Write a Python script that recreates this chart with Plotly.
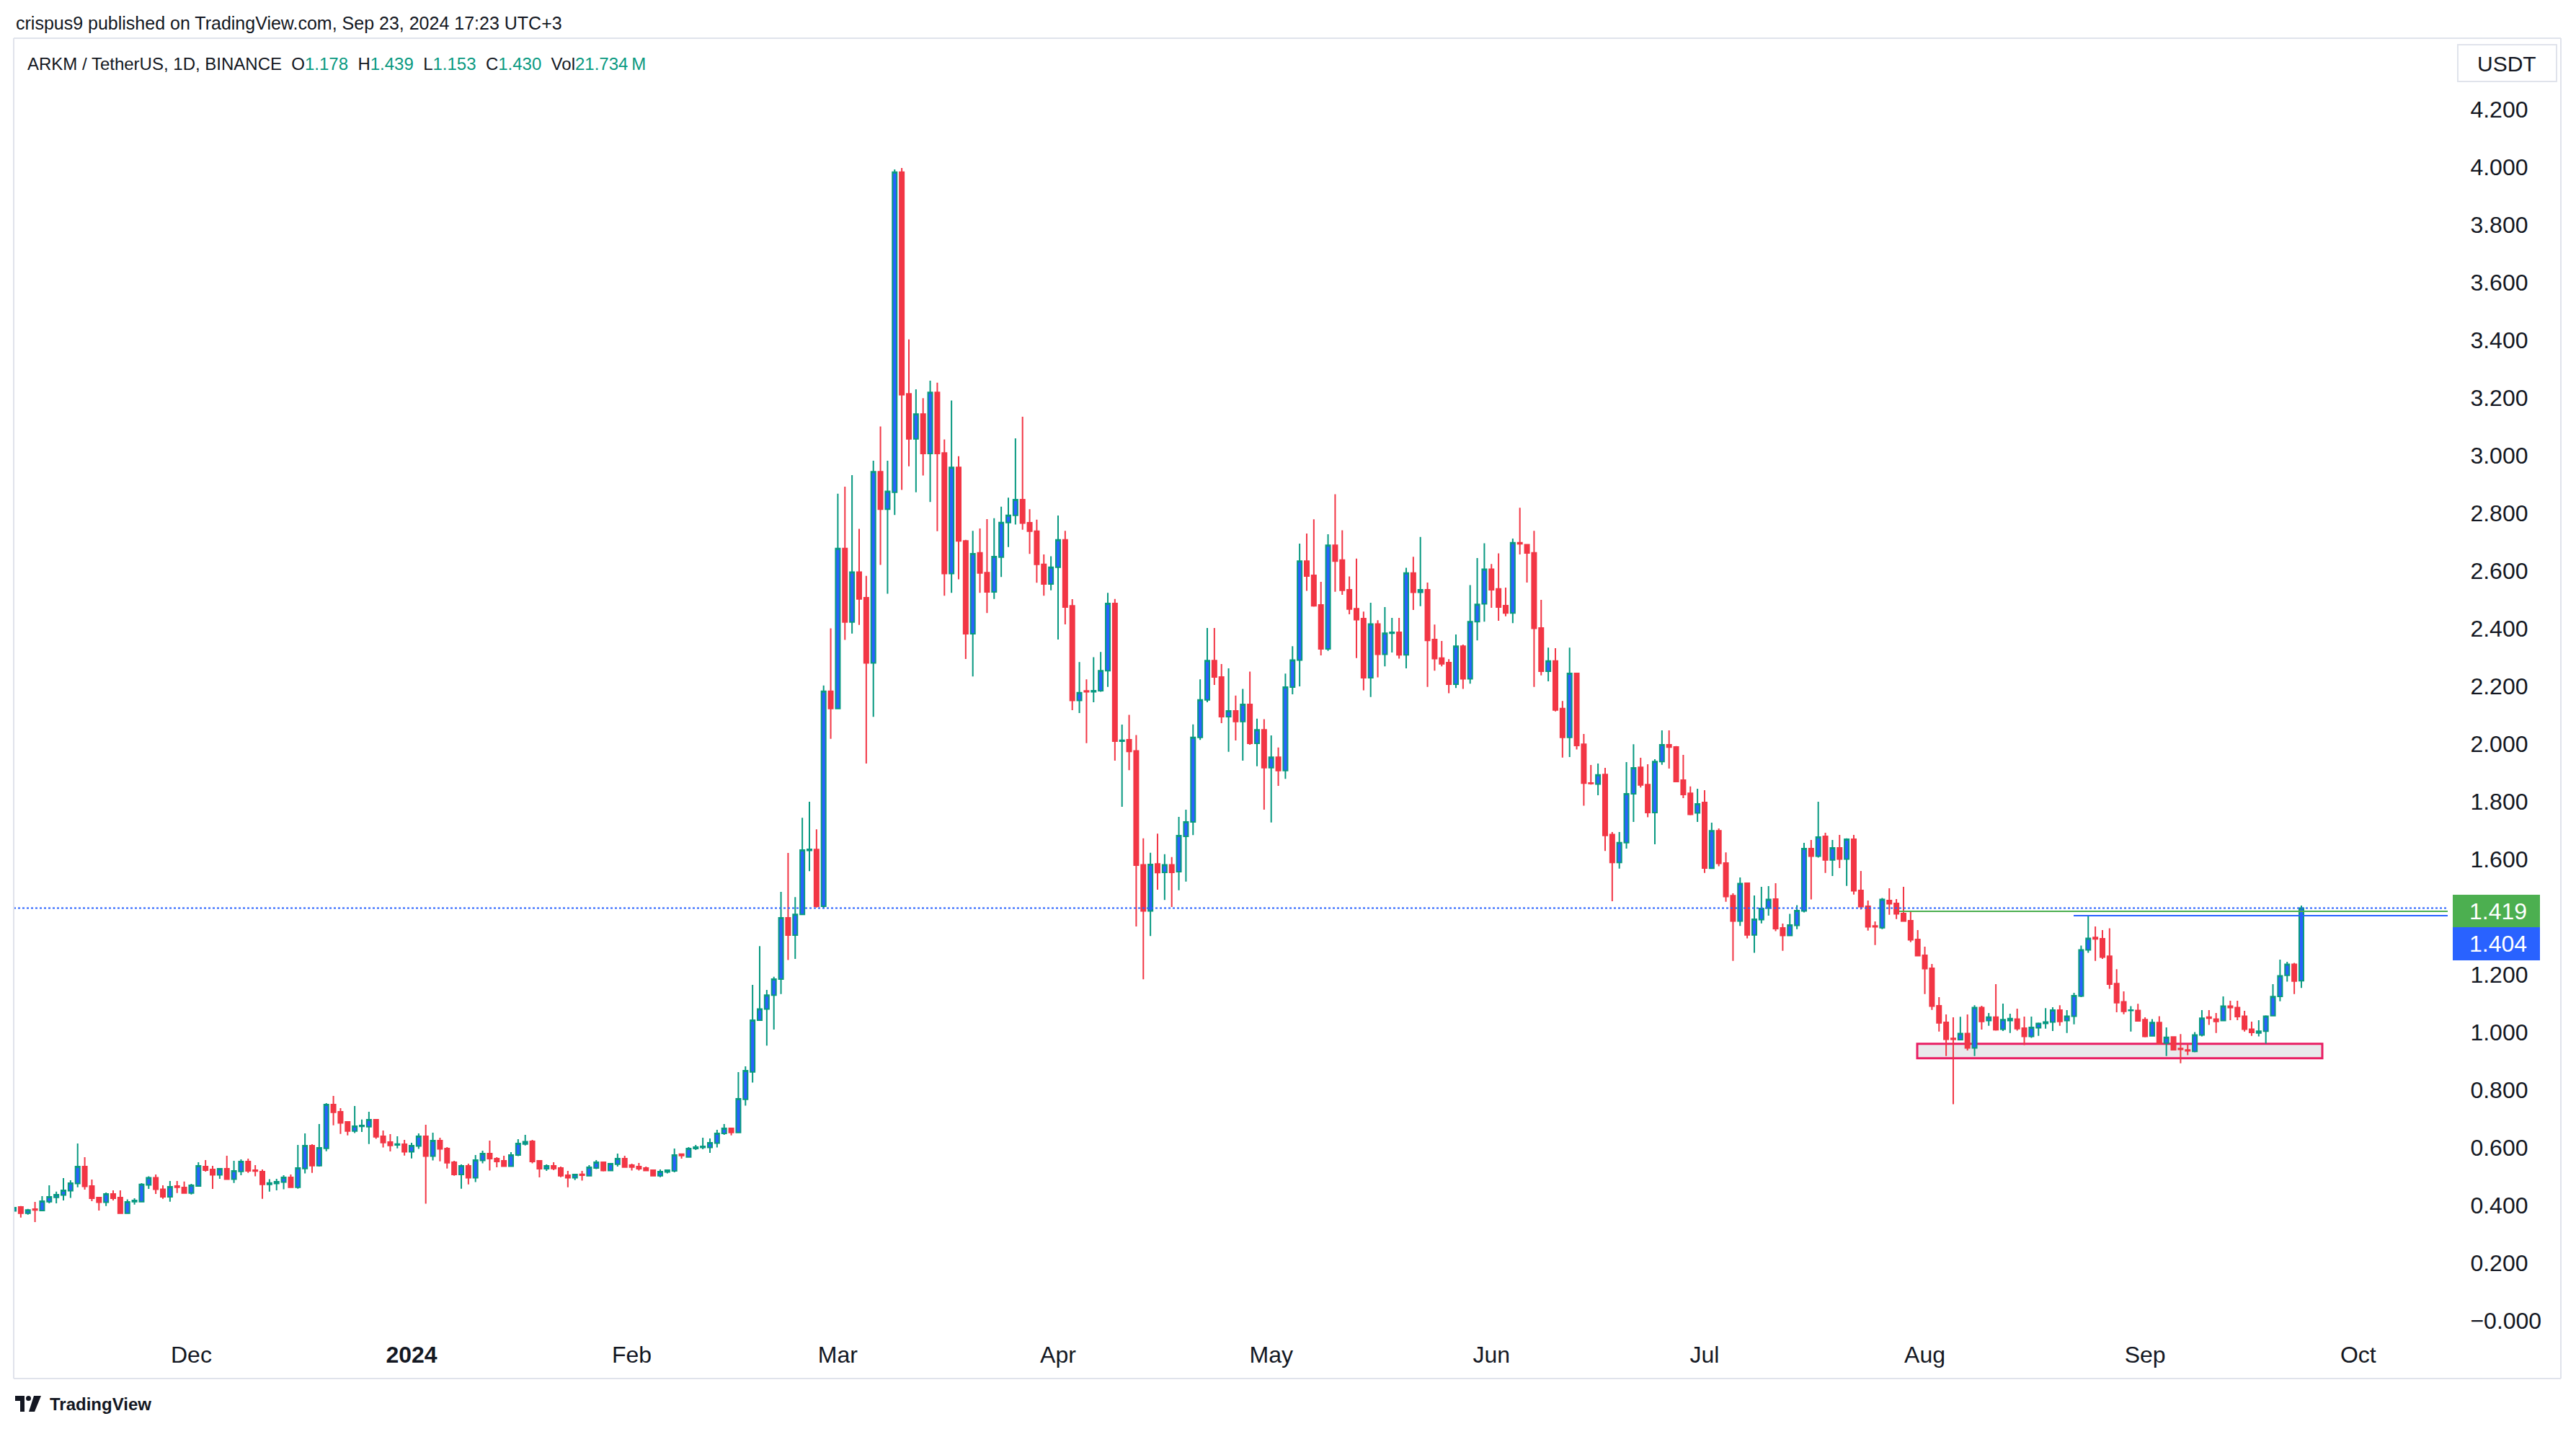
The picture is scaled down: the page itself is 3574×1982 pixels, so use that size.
import plotly.graph_objects as go
import pandas as pd

# ------------------------------------------------------------------
# DATA  (ARKM / TetherUS, 1D, BINANCE) - one candle per day from 2023-11-06
# ------------------------------------------------------------------
start_date = "2023-11-06"

open_ = [
    # Nov 2023 (6-30)
    0.380,0.394,0.372,0.386,0.381,0.412,0.427,0.435,0.450,0.475,0.534,0.466,0.426,0.410,0.439,0.426,0.372,0.412,0.412,0.470,0.495,0.455,0.429,0.466,0.461,
    # Dec
    0.442,0.466,0.534,0.524,0.505,0.526,0.490,0.517,0.551,0.521,0.516,0.472,0.475,0.480,0.496,0.462,0.527,0.606,0.537,0.597,0.749,0.724,0.689,0.657,0.673,0.672,0.696,0.639,0.619,0.609,0.611,
    # Jan 2024
    0.585,0.605,0.639,0.570,0.624,0.596,0.549,0.506,0.536,0.495,0.555,0.579,0.561,0.554,0.535,0.574,0.612,0.621,0.554,0.526,0.536,0.529,0.504,0.495,0.507,0.502,0.529,0.549,0.520,0.542,0.561,
    # Feb
    0.539,0.534,0.529,0.521,0.502,0.515,0.519,0.577,0.567,0.596,0.600,0.600,0.615,0.649,0.666,0.652,0.767,0.862,1.041,1.080,1.128,1.184,1.396,1.336,1.408,1.630,1.633,1.436,2.182,
    # Mar
    2.122,2.677,2.422,2.595,2.506,2.280,2.943,2.813,2.872,3.982,3.213,3.057,3.143,3.006,3.218,3.008,2.590,2.958,2.703,2.381,2.662,2.593,2.526,2.647,2.767,2.792,2.846,2.766,2.737,2.622,2.554,
    # Apr
    2.612,2.707,2.478,2.150,2.183,2.180,2.184,2.253,2.486,2.009,2.014,1.975,1.580,1.420,1.583,1.554,1.580,1.556,1.679,1.729,2.022,2.152,2.288,2.231,2.094,2.114,2.077,2.136,2.001,2.048,
    # May
    1.917,1.953,1.907,2.196,2.290,2.633,2.584,2.481,2.329,2.688,2.637,2.534,2.468,2.434,2.229,2.415,2.310,2.383,2.386,2.308,2.592,2.525,2.534,2.361,2.297,2.281,2.206,2.338,2.225,2.423,2.485,
    # Jun
    2.605,2.537,2.479,2.453,2.697,2.690,2.662,2.401,2.251,2.287,2.122,2.022,2.244,1.998,1.864,1.860,1.893,1.685,1.588,1.657,1.826,1.918,1.858,1.761,1.938,1.996,1.989,1.874,1.828,1.760,
    # Jul
    1.796,1.568,1.698,1.586,1.473,1.385,1.516,1.337,1.390,1.430,1.461,1.361,1.335,1.370,1.420,1.636,1.610,1.679,1.597,1.639,1.600,1.669,1.491,1.436,1.368,1.362,1.456,1.446,1.411,1.386,1.321,
    # Aug
    1.266,1.221,1.091,1.034,0.978,0.974,0.995,0.945,1.085,1.040,1.052,1.010,1.040,1.045,1.014,0.985,1.015,1.030,1.035,1.076,1.040,1.055,1.125,1.285,1.328,1.324,1.263,1.168,1.105,1.075,1.075,
    # Sep (1-23)
    1.043,0.987,1.033,0.962,0.983,0.943,0.938,0.933,0.990,1.052,1.045,1.040,1.090,1.085,1.055,1.010,0.997,1.003,1.057,1.124,1.197,1.235,1.178,
]

high_ = [
    0.395,0.397,0.387,0.411,0.431,0.469,0.447,0.494,0.486,0.614,0.566,0.489,0.426,0.444,0.451,0.451,0.420,0.424,0.476,0.500,0.506,0.469,0.484,0.484,0.482,
    0.474,0.549,0.556,0.536,0.529,0.571,0.554,0.559,0.561,0.539,0.524,0.490,0.491,0.504,0.506,0.609,0.649,0.611,0.681,0.754,0.779,0.736,0.689,0.744,0.697,0.724,0.699,0.659,0.646,0.639,0.626,
    0.616,0.649,0.679,0.651,0.634,0.601,0.554,0.541,0.544,0.574,0.589,0.624,0.566,0.571,0.584,0.629,0.644,0.626,0.556,0.541,0.549,0.534,0.519,0.509,0.519,0.539,0.556,0.551,0.546,0.579,0.571,
    0.544,0.546,0.534,0.524,0.524,0.524,0.596,0.579,0.601,0.609,0.634,0.631,0.661,0.681,0.669,0.861,0.881,1.164,1.298,1.146,1.192,1.486,1.621,1.468,1.743,1.799,1.703,2.202,2.400,
    2.867,2.891,2.931,2.745,2.582,2.981,3.100,2.981,3.991,3.996,3.402,3.229,3.198,3.259,3.252,3.055,3.190,2.997,2.707,2.738,2.746,2.779,2.782,2.822,2.853,3.059,3.134,2.813,2.777,2.656,2.650,
    2.791,2.738,2.501,2.283,2.223,2.300,2.318,2.523,2.502,2.066,2.100,2.030,1.672,1.622,1.688,1.617,1.607,1.746,1.771,2.067,2.223,2.401,2.401,2.276,2.261,2.167,2.190,2.250,2.087,2.085,
    2.029,1.987,2.243,2.338,2.694,2.729,2.778,2.561,2.726,2.865,2.740,2.580,2.642,2.458,2.489,2.428,2.474,2.436,2.436,2.610,2.648,2.717,2.559,2.413,2.356,2.293,2.379,2.344,2.550,2.644,2.695,
    2.623,2.660,2.541,2.711,2.818,2.690,2.738,2.499,2.333,2.331,2.148,2.333,2.244,2.034,1.926,1.931,1.916,1.694,1.694,1.936,1.998,1.951,1.929,1.946,2.046,2.046,1.992,1.961,1.852,1.844,
    1.839,1.726,1.706,1.623,1.481,1.536,1.519,1.474,1.504,1.506,1.516,1.376,1.410,1.440,1.656,1.666,1.799,1.691,1.666,1.684,1.672,1.684,1.559,1.456,1.384,1.465,1.499,1.461,1.504,1.420,1.354,
    1.296,1.236,1.121,1.061,1.051,1.053,1.061,1.093,1.091,1.066,1.166,1.099,1.064,1.081,1.054,1.054,1.033,1.083,1.086,1.093,1.076,1.136,1.300,1.404,1.366,1.354,1.360,1.218,1.141,1.090,1.098,
    1.051,1.045,1.055,1.016,0.985,0.993,0.960,1.000,1.076,1.076,1.066,1.124,1.109,1.109,1.074,1.036,1.041,1.058,1.166,1.251,1.244,1.240,1.439,
]

low_ = [
    0.377,0.357,0.367,0.341,0.379,0.406,0.406,0.416,0.425,0.462,0.454,0.414,0.381,0.397,0.416,0.372,0.372,0.402,0.412,0.456,0.439,0.422,0.412,0.442,0.442,
    0.437,0.465,0.516,0.456,0.491,0.490,0.477,0.504,0.512,0.500,0.422,0.447,0.451,0.455,0.462,0.457,0.510,0.512,0.534,0.587,0.677,0.647,0.642,0.650,0.654,0.612,0.630,0.600,0.586,0.597,0.572,
    0.562,0.595,0.405,0.555,0.552,0.527,0.502,0.457,0.472,0.480,0.545,0.520,0.531,0.535,0.535,0.570,0.607,0.545,0.496,0.519,0.521,0.497,0.462,0.487,0.485,0.502,0.525,0.517,0.520,0.534,0.532,
    0.520,0.520,0.520,0.502,0.497,0.510,0.514,0.561,0.567,0.591,0.594,0.581,0.600,0.644,0.642,0.650,0.745,0.825,1.041,0.953,1.009,1.132,1.250,1.254,1.408,1.558,1.432,1.428,2.017,
    2.122,2.360,2.382,2.412,1.931,2.093,2.620,2.520,2.793,2.880,2.962,2.872,2.930,2.838,2.737,2.513,2.523,2.570,2.294,2.233,2.523,2.453,2.502,2.578,2.682,2.760,2.742,2.658,2.558,2.513,2.532,
    2.361,2.414,2.116,2.106,2.002,2.144,2.180,2.197,1.941,1.781,1.908,1.366,1.183,1.333,1.494,1.458,1.434,1.492,1.522,1.683,2.013,2.144,2.204,2.071,1.972,2.011,1.941,1.996,1.922,1.771,
    1.727,1.854,1.878,2.171,2.199,2.530,2.475,2.306,2.322,2.527,2.516,2.449,2.297,2.185,2.162,2.230,2.268,2.316,2.295,2.261,2.464,2.477,2.197,2.253,2.268,2.175,2.193,2.190,2.208,2.358,2.423,
    2.471,2.426,2.442,2.418,2.656,2.559,2.197,2.237,2.216,2.112,1.952,1.954,1.980,1.785,1.858,1.821,1.628,1.454,1.567,1.636,1.729,1.848,1.745,1.651,1.927,1.914,1.866,1.811,1.752,1.729,
    1.552,1.568,1.575,1.452,1.247,1.368,1.325,1.275,1.377,1.404,1.350,1.282,1.333,1.357,1.415,1.460,1.605,1.552,1.541,1.569,1.507,1.477,1.425,1.352,1.302,1.357,1.407,1.392,1.385,1.312,1.265,
    1.132,1.077,1.002,0.917,0.750,0.974,0.936,0.917,1.009,1.022,1.005,1.004,0.997,1.005,0.955,0.980,0.987,1.012,1.004,1.022,0.997,1.027,1.121,1.275,1.247,1.254,1.150,1.069,1.062,1.002,1.037,
    0.982,0.987,0.960,0.917,0.936,0.892,0.920,0.930,0.985,1.025,0.997,1.040,1.041,1.041,1.002,0.987,0.985,0.960,1.057,1.107,1.175,1.132,1.153,
]

close_ = [
    0.391,0.372,0.383,0.383,0.414,0.429,0.436,0.451,0.476,0.534,0.465,0.424,0.410,0.439,0.424,0.372,0.411,0.416,0.472,0.495,0.455,0.429,0.464,0.462,0.442,
    0.469,0.536,0.521,0.505,0.526,0.490,0.519,0.551,0.519,0.518,0.472,0.477,0.481,0.496,0.462,0.529,0.606,0.537,0.599,0.749,0.722,0.685,0.657,0.674,0.676,0.696,0.637,0.617,0.607,0.612,0.585,
    0.606,0.639,0.570,0.624,0.595,0.547,0.506,0.536,0.495,0.556,0.579,0.561,0.551,0.535,0.574,0.614,0.620,0.551,0.526,0.536,0.527,0.502,0.495,0.506,0.504,0.531,0.549,0.520,0.544,0.561,0.532,
    0.532,0.526,0.520,0.502,0.516,0.521,0.574,0.572,0.596,0.601,0.604,0.616,0.649,0.666,0.652,0.769,0.866,1.041,1.080,1.128,1.184,1.396,1.336,1.408,1.631,1.634,1.436,2.182,2.122,
    2.677,2.422,2.595,2.502,2.280,2.943,2.813,2.875,3.982,3.210,3.057,3.143,3.006,3.218,3.006,2.590,2.958,2.703,2.381,2.659,2.592,2.526,2.649,2.767,2.792,2.846,2.765,2.737,2.622,2.554,2.612,
    2.707,2.474,2.150,2.177,2.180,2.184,2.253,2.486,2.009,2.012,1.973,1.579,1.420,1.581,1.553,1.580,1.554,1.681,1.729,2.022,2.152,2.288,2.231,2.094,2.114,2.077,2.136,2.001,2.048,1.917,
    1.953,1.907,2.196,2.290,2.633,2.581,2.478,2.329,2.688,2.633,2.532,2.467,2.430,2.229,2.415,2.310,2.383,2.386,2.308,2.592,2.525,2.534,2.358,2.295,2.277,2.206,2.338,2.225,2.423,2.483,2.605,
    2.534,2.474,2.453,2.697,2.693,2.661,2.400,2.251,2.287,2.117,2.022,2.244,1.994,1.863,1.862,1.892,1.682,1.588,1.657,1.826,1.916,1.857,1.761,1.938,1.996,1.988,1.869,1.824,1.755,1.791,
    1.569,1.698,1.585,1.470,1.385,1.515,1.337,1.391,1.429,1.460,1.359,1.335,1.371,1.421,1.636,1.610,1.676,1.597,1.639,1.600,1.669,1.490,1.435,1.365,1.365,1.460,1.445,1.410,1.385,1.320,1.265,
    1.220,1.090,1.032,0.975,0.975,0.995,0.945,1.085,1.037,1.052,1.008,1.043,1.047,1.012,0.985,1.016,1.030,1.035,1.076,1.037,1.055,1.126,1.285,1.325,1.323,1.260,1.166,1.102,1.072,1.076,1.039,
    0.985,1.033,0.960,0.982,0.939,0.940,0.935,0.990,1.048,1.048,1.037,1.090,1.085,1.054,1.010,0.999,1.003,1.055,1.123,1.195,1.235,1.177,1.430,
]

month_ticks = ["2023-12-01", "2024-01-01", "2024-02-01", "2024-03-01", "2024-04-01", "2024-05-01",
               "2024-06-01", "2024-07-01", "2024-08-01", "2024-09-01", "2024-10-01"]
month_labels = ["Dec", "<b>2024</b>", "Feb", "Mar", "Apr", "May", "Jun", "Jul", "Aug", "Sep", "Oct"]

price_ticks = [0.0, 0.2, 0.4, 0.6, 0.8, 1.0, 1.2, 1.6, 1.8, 2.0, 2.2, 2.4, 2.6, 2.8, 3.0,
               3.2, 3.4, 3.6, 3.8, 4.0, 4.2]
price_labels = ["\u22120.000", "0.200", "0.400", "0.600", "0.800", "1.000", "1.200", "1.600",
                "1.800", "2.000", "2.200", "2.400", "2.600", "2.800", "3.000", "3.200", "3.400",
                "3.600", "3.800", "4.000", "4.200"]

last_price = 1.430          # dotted price line
green_level = 1.419         # horizontal ray (green)
blue_level = 1.404          # horizontal ray (blue, Aug 24 high)
support_low, support_high = 0.9095, 0.9595

header_text = "crispus9 published on TradingView.com, Sep 23, 2024 17:23 UTC+3"
legend_vals = {"O": "1.178", "H": "1.439", "L": "1.153", "C": "1.430", "Vol": "21.734\u202fM"}

assert len(open_) == len(high_) == len(low_) == len(close_)
dates = pd.date_range(start_date, periods=len(open_), freq="D")

# ------------------------------------------------------------------
# GEOMETRY (pixels of the 3574x1982 canvas)
# ------------------------------------------------------------------
W, H = 3574, 1982
PL, PR, PT, PB = 19, 3396, 54, 1846
ZERO_Y, PX_PER_UNIT = 1831.5, 400.0
X0_PX, PX_PER_DAY = 571.0, 9.857
T0 = pd.Timestamp("2024-01-01")


def px_date(px):
    return T0 + pd.Timedelta(days=(px - X0_PX) / PX_PER_DAY)


def fx(px):
    return (px - PL) / (PR - PL)


def fy(py):
    return (PB - py) / (PB - PT)


y_range = [(ZERO_Y - PB) / PX_PER_UNIT, (ZERO_Y - PT) / PX_PER_UNIT]
x_range = [px_date(PL), px_date(PR)]

FONT = "Liberation Sans, Arial, sans-serif"
TXT = "#131722"
GREEN_TXT = "#089981"
BORDER = "#e0e3eb"

fig = go.Figure()
fig.add_trace(go.Candlestick(
    x=dates, open=open_, high=high_, low=low_, close=close_,
    increasing=dict(line=dict(color="#089981", width=2), fillcolor="#2962ff"),
    decreasing=dict(line=dict(color="#f23645", width=2), fillcolor="#f23645"),
    whiskerwidth=0, hoverinfo="skip", showlegend=False,
))

shapes = []
# support zone rectangle
shapes.append(dict(type="rect", xref="x", yref="y", x0=px_date(2660), x1=px_date(3222),
                   y0=support_low, y1=support_high, fillcolor="#e9e9ec",
                   line=dict(color="#e91e63", width=3), layer="below"))
# dotted last-price line
shapes.append(dict(type="line", xref="x domain", yref="y", x0=0, x1=1, y0=last_price, y1=last_price,
                   line=dict(color="#2962ff", width=2, dash="3px,3px"), layer="above"))
# green horizontal ray
shapes.append(dict(type="line", xref="x", yref="y", x0=px_date(2635), x1=x_range[1],
                   y0=green_level, y1=green_level, line=dict(color="#4caf50", width=2), layer="above"))
# blue horizontal ray
shapes.append(dict(type="line", xref="x", yref="y", x0=px_date(2877), x1=x_range[1],
                   y0=blue_level, y1=blue_level, line=dict(color="#2962ff", width=2), layer="above"))

# pane frame
for (x0, y0, x1, y1) in [(PL, 53, 3553, 53), (PL, 1912, 3553, 1912), (PL, 53, PL, 1912), (3553, 53, 3553, 1912)]:
    shapes.append(dict(type="line", xref="paper", yref="paper", x0=fx(x0), x1=fx(x1), y0=fy(y0), y1=fy(y1),
                       line=dict(color=BORDER, width=2)))

# price labels on the axis
shapes.append(dict(type="rect", xref="paper", yref="paper", x0=fx(3403), x1=fx(3524), y0=fy(1286), y1=fy(1241),
                   fillcolor="#4caf50", line=dict(width=0)))
shapes.append(dict(type="rect", xref="paper", yref="paper", x0=fx(3403), x1=fx(3524), y0=fy(1332), y1=fy(1286),
                   fillcolor="#2962ff", line=dict(width=0)))
# USDT box
shapes.append(dict(type="rect", xref="paper", yref="paper", x0=fx(3410), x1=fx(3547), y0=fy(113), y1=fy(62),
                   fillcolor="white", line=dict(color=BORDER, width=2)))

# TradingView logo glyph
shapes.append(dict(type="rect", xref="paper", yref="paper", x0=fx(21), x1=fx(34), y0=fy(1943), y1=fy(1936),
                   fillcolor=TXT, line=dict(width=0)))
shapes.append(dict(type="rect", xref="paper", yref="paper", x0=fx(28), x1=fx(34), y0=fy(1958), y1=fy(1936),
                   fillcolor=TXT, line=dict(width=0)))
shapes.append(dict(type="circle", xref="paper", yref="paper", x0=fx(36), x1=fx(43), y0=fy(1943), y1=fy(1936),
                   fillcolor=TXT, line=dict(width=0)))
shapes.append(dict(type="path", xref="paper", yref="paper",
                   path=f"M {fx(47)},{fy(1936)} L {fx(57)},{fy(1936)} L {fx(48)},{fy(1958)} L {fx(40)},{fy(1958)} Z",
                   fillcolor=TXT, line=dict(width=0)))

annotations = []
annotations.append(dict(xref="paper", yref="paper", x=fx(20), y=fy(32), xanchor="left", yanchor="middle",
                        text=header_text, showarrow=False, font=dict(family=FONT, size=25, color=TXT)))
sp = "\u00a0\u00a0"
legend_txt = "ARKM / TetherUS, 1D, BINANCE" + sp + sp.join(
    f'{k}<span style="color:{GREEN_TXT}">{v}</span>' for k, v in legend_vals.items())
annotations.append(dict(xref="paper", yref="paper", x=fx(36), y=fy(88), xanchor="left", yanchor="middle",
                        text=legend_txt, showarrow=False, font=dict(family=FONT, size=24, color=TXT)))
annotations.append(dict(xref="paper", yref="paper", x=fx(3478), y=fy(88), xanchor="center", yanchor="middle",
                        text="USDT", showarrow=False, font=dict(family=FONT, size=30, color=TXT)))
annotations.append(dict(xref="paper", yref="paper", x=fx(3424), y=fy(1263.5), xanchor="left", yanchor="middle",
                        text=f"{green_level:.3f}", showarrow=False, font=dict(family=FONT, size=32, color="white")))
annotations.append(dict(xref="paper", yref="paper", x=fx(3424), y=fy(1309), xanchor="left", yanchor="middle",
                        text=f"{blue_level:.3f}", showarrow=False, font=dict(family=FONT, size=32, color="white")))
annotations.append(dict(xref="paper", yref="paper", x=fx(67), y=fy(1947), xanchor="left", yanchor="middle",
                        text="<b>TradingView</b>", showarrow=False, font=dict(family=FONT, size=24, color=TXT)))

fig.update_layout(
    width=W, height=H, autosize=False,
    margin=dict(l=PL, r=W - PR, t=PT, b=H - PB, pad=0),
    paper_bgcolor="white", plot_bgcolor="white",
    showlegend=False, hovermode=False, boxgap=0.39, boxgroupgap=0,
    shapes=shapes, annotations=annotations,
    xaxis=dict(type="date", range=x_range, tickmode="array", tickvals=month_ticks, ticktext=month_labels,
               tickfont=dict(family=FONT, size=32, color=TXT), showgrid=False, zeroline=False,
               showline=False, ticks="outside", ticklen=5, tickcolor="rgba(0,0,0,0)",
               rangeslider=dict(visible=False), automargin=False, fixedrange=True),
    yaxis=dict(side="right", range=y_range, tickmode="array", tickvals=price_ticks, ticktext=price_labels,
               tickfont=dict(family=FONT, size=32, color=TXT), showgrid=False, zeroline=False,
               showline=False, ticks="outside", ticklen=24, tickcolor="rgba(0,0,0,0)",
               automargin=False, fixedrange=True),
)

fig.write_html("out.html")
